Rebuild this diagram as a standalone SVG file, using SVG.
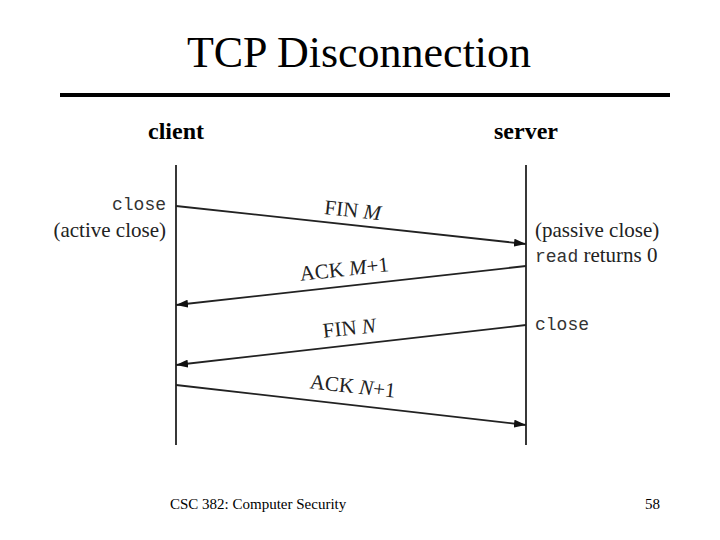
<svg xmlns="http://www.w3.org/2000/svg" width="720" height="540" viewBox="0 0 720 540">
<style>
.t{font-family:"Liberation Serif",serif;fill:#000}
.b{font-family:"Liberation Serif",serif;font-weight:bold;font-size:24px}
.m{font-family:"Liberation Mono",monospace;font-size:18px;fill:#333}
.s{font-family:"Liberation Serif",serif;font-size:21px;fill:#222}
.ln{stroke:#222;stroke-width:1.8;fill:none}
</style>
<defs><marker id="a" markerWidth="12" markerHeight="8" refX="12" refY="4" orient="auto" markerUnits="userSpaceOnUse"><path d="M0,0L12,4L0,8z" fill="#111"/></marker></defs>
<rect width="720" height="540" fill="#fff"/>
<text class="t" x="359" y="67" font-size="44" text-anchor="middle">TCP Disconnection</text>
<line x1="60" y1="95" x2="670" y2="95" stroke="#000" stroke-width="4"/>
<g id="client"><text class="b" x="176" y="139" text-anchor="middle">client</text><line class="ln" x1="176" y1="165" x2="176" y2="445"/>
<text class="m" x="166" y="210" text-anchor="end">close</text><text class="s" x="166" y="237" text-anchor="end">(active close)</text></g>
<g id="server"><text class="b" x="526" y="139" text-anchor="middle">server</text><line class="ln" x1="526" y1="165" x2="526" y2="445"/>
<text class="s" x="535" y="237">(passive close)</text><text class="m" x="535" y="262">read<tspan class="s" font-size="21"> returns 0</tspan></text>
<text class="m" x="535" y="330">close</text></g>
<g id="connectors">
<line class="ln" x1="176" y1="206" x2="526" y2="244" marker-end="url(#a)"/>
<line class="ln" x1="526" y1="266" x2="176" y2="305" marker-end="url(#a)"/>
<line class="ln" x1="526" y1="325" x2="176" y2="365" marker-end="url(#a)"/>
<line class="ln" x1="176" y1="385" x2="526" y2="425" marker-end="url(#a)"/>
<text class="s" transform="translate(352,217) rotate(6.2)" text-anchor="middle">FIN <tspan font-style="italic">M</tspan></text>
<text class="s" transform="translate(345,276) rotate(-6.2)" text-anchor="middle">ACK <tspan font-style="italic">M</tspan>+1</text>
<text class="s" transform="translate(350,335) rotate(-6.2)" text-anchor="middle">FIN <tspan font-style="italic">N</tspan></text>
<text class="s" transform="translate(352,393) rotate(6.2)" text-anchor="middle">ACK <tspan font-style="italic">N</tspan>+1</text>
</g>
<text class="t" x="170" y="509" font-size="15">CSC 382: Computer Security</text>
<text class="t" x="645" y="509" font-size="15">58</text>
</svg>
